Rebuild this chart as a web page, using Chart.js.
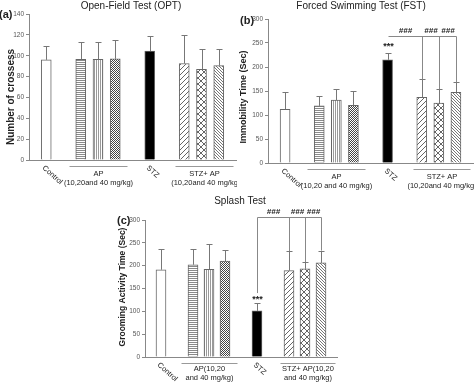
<!DOCTYPE html>
<html>
<head>
<meta charset="utf-8">
<script src="https://cdn.jsdelivr.net/npm/chart.js@4"></script>
<style>
  body { margin: 0; background: #fff; width: 474px; height: 383px; position: relative; overflow: hidden; }
  canvas { position: absolute; }
</style>
</head>
<body>
<canvas id="oftChart" width="237" height="190" style="left:0;top:0"></canvas>
<canvas id="fstChart" width="237" height="190" style="left:237px;top:0"></canvas>
<canvas id="splashChart" width="274" height="193" style="left:100px;top:190px"></canvas>
<script>
// ---------- data ----------
const categories = ['Control', 'AP 10', 'AP 20', 'AP 40', 'STZ', 'STZ+AP 10', 'STZ+AP 20', 'STZ+AP 40'];
const groupSizes = [1, 3, 1, 3];

const oftMean = [96, 96.5, 96.5, 97, 104.5, 92.5, 87, 90.5];
const oftSem  = [13, 16.5, 16.5, 18, 14.5, 27.5, 19, 16];

const fstMean = [112, 119, 131, 120, 215, 137, 125, 147];
const fstSem  = [36, 20, 24, 29, 14, 37, 29, 21];

const splashMean = [191, 202, 192, 210, 101, 189, 193, 206];
const splashSem  = [45, 34, 55, 25, 17, 43, 15, 27];

const oftTicks = [0, 20, 40, 60, 80, 100, 120, 140];
const timeTicks = [0, 50, 100, 150, 200, 250, 300];

const FONT = '"Liberation Sans", Arial, sans-serif';

// slots: empty category before, between groups and after
const slotIdx = [];
const slotLabels = [''];
let k0 = 0;
groupSizes.forEach((n, g) => {
  if (g) slotLabels.push('');
  for (let j = 0; j < n; j++) {
    slotIdx.push(slotLabels.length);
    slotLabels.push(categories[k0++]);
  }
});
slotLabels.push('');

function toSlots(arr) {
  const out = slotLabels.map(() => null);
  arr.forEach((v, i) => { out[slotIdx[i]] = v; });
  return out;
}

// ---------- fill patterns ----------
function tile(n, draw) {
  const c = document.createElement('canvas');
  c.width = c.height = n;
  const g = c.getContext('2d');
  g.fillStyle = '#fff';
  g.fillRect(0, 0, n, n);
  draw(g, n);
  return g.createPattern(c, 'repeat');
}
function diag(n, color, back) {
  return tile(n, (g) => {
    g.strokeStyle = color;
    g.lineWidth = 1;
    g.beginPath();
    if (back) {
      g.moveTo(0, 0); g.lineTo(n, n);
      g.moveTo(-1, n - 1); g.lineTo(1, n + 1);
      g.moveTo(n - 1, -1); g.lineTo(n + 1, 1);
    } else {
      g.moveTo(0, n); g.lineTo(n, 0);
      g.moveTo(-1, 1); g.lineTo(1, -1);
      g.moveTo(n - 1, n + 1); g.lineTo(n + 1, n - 1);
    }
    g.stroke();
  });
}
const fills = [
  '#ffffff',
  tile(2, (g) => { g.fillStyle = '#8a8a8a'; g.fillRect(0, 0, 2, 1); }),
  tile(2, (g) => { g.fillStyle = '#9a9a9a'; g.fillRect(0, 0, 1, 2); }),
  tile(2, (g) => { g.fillStyle = '#444'; g.fillRect(0, 0, 1, 1); g.fillRect(1, 1, 1, 1); }),
  '#000000',
  diag(5, '#666', false),
  tile(6, (g) => {
    g.strokeStyle = '#666';
    g.beginPath();
    g.moveTo(0, 6); g.lineTo(6, 0); g.moveTo(-1, 1); g.lineTo(1, -1); g.moveTo(5, 7); g.lineTo(7, 5);
    g.moveTo(0, 0); g.lineTo(6, 6); g.moveTo(-1, 5); g.lineTo(1, 7); g.moveTo(5, -1); g.lineTo(7, 1);
    g.stroke();
  }),
  diag(3, '#777', true)
];

// ---------- drawing helpers ----------
function txt(ctx, s, x, y, font, align, base) {
  ctx.font = font;
  ctx.textAlign = align || 'center';
  ctx.textBaseline = base || 'middle';
  ctx.fillText(s, x, y);
}

function makeDeco(o, means, sems) {
  return {
    id: 'deco',
    afterDatasetsDraw(chart) {
      const ctx = chart.ctx, ys = chart.scales.y;
      const bars = chart.getDatasetMeta(0).data;
      ctx.save();
      ctx.strokeStyle = '#777';
      ctx.lineWidth = 1;
      means.forEach((m, i) => {
        const x = Math.round(bars[slotIdx[i]].x) + 0.5;
        const top = Math.round(ys.getPixelForValue(m + sems[i])) + 0.5;
        ctx.beginPath();
        ctx.moveTo(x, ys.getPixelForValue(m));
        ctx.lineTo(x, top);
        ctx.moveTo(x - 3, top);
        ctx.lineTo(x + 3, top);
        ctx.stroke();
      });
      ctx.restore();
    },
    afterDraw(chart) {
      const ctx = chart.ctx, ys = chart.scales.y;
      const bars = chart.getDatasetMeta(0).data;
      const px = (i) => Math.round(bars[slotIdx[i]].x) + 0.5;
      const b = chart.chartArea.bottom;
      ctx.save();
      ctx.fillStyle = '#222';
      txt(ctx, o.title, o.titleX, o.titleY, '10px ' + FONT);
      txt(ctx, o.letter, o.letterX, o.letterY, 'bold 11px ' + FONT, 'left');

      ctx.save();
      ctx.translate(o.yTitleX, o.yTitleY);
      ctx.rotate(-Math.PI / 2);
      txt(ctx, o.yTitle, 0, 0, 'bold ' + o.yTitleSize + 'px ' + FONT);
      ctx.restore();

      // x labels and group lines
      ctx.strokeStyle = '#999';
      ctx.lineWidth = 1;
      let k = 0;
      groupSizes.forEach((n, g) => {
        const first = px(k), last = px(k + n - 1);
        if (n === 1) {
          ctx.save();
          ctx.translate(first - 3, b + o.rotY);
          ctx.rotate(42 * Math.PI / 180);
          txt(ctx, categories[k], 0, 0, '7.5px ' + FONT, 'left');
          ctx.restore();
        } else {
          const ext = g === 1 ? [12, 12] : [9, 14];
          const x0 = first - ext[0], x1 = last + ext[1];
          const ly = Math.round(b + o.lineY) + 0.5;
          ctx.beginPath();
          ctx.moveTo(x0, ly);
          ctx.lineTo(x1, ly);
          ctx.stroke();
          const lines = o.groups[g];
          txt(ctx, lines[0], (x0 + x1) / 2, b + o.l1, '7.5px ' + FONT);
          txt(ctx, lines[1], (x0 + x1) / 2, b + o.l2, '7.5px ' + FONT);
        }
        k += n;
      });

      // significance marks
      if (o.bracket) {
        const stz = 4;
        const capStz = ys.getPixelForValue(means[stz] + sems[stz]);
        txt(ctx, '***', px(stz), capStz - o.starGap, 'bold 9px ' + FONT, 'center', 'alphabetic');
        const ly = Math.round(ys.getPixelForValue(o.bracket)) + 0.5;
        ctx.strokeStyle = '#888';
        ctx.beginPath();
        ctx.moveTo(px(stz), ly);
        ctx.lineTo(px(7), ly);
        if (o.stzDrop) {
          ctx.moveTo(px(stz), ly);
          ctx.lineTo(px(stz), ys.getPixelForValue(o.stzDrop));
        }
        for (let i = 5; i <= 7; i++) {
          ctx.moveTo(px(i), ly);
          ctx.lineTo(px(i), ys.getPixelForValue(means[i] + sems[i]));
        }
        ctx.stroke();
        for (let i = 5; i <= 7; i++) {
          txt(ctx, '###', (px(i - 1) + px(i)) / 2, ly - 2, 'bold italic 8px ' + FONT, 'center', 'bottom');
        }
      }
      ctx.restore();
    }
  };
}

function makePanel(id, means, sems, ticks, o) {
  return new Chart(document.getElementById(id), {
    type: 'bar',
    data: {
      labels: slotLabels,
      datasets: [{
        data: toSlots(means),
        backgroundColor: toSlots(fills),
        borderColor: '#666',
        borderWidth: 1,
        barThickness: 10
      }]
    },
    options: {
      responsive: false,
      animation: false,
      events: [],
      layout: { padding: o.pad },
      plugins: { legend: { display: false }, tooltip: { enabled: false } },
      scales: {
        x: {
          offset: false,
          grid: { display: false },
          ticks: { display: false },
          border: { color: '#888' },
          afterFit: (s) => { s.height = o.xh; }
        },
        y: {
          min: ticks[0],
          max: ticks[ticks.length - 1],
          ticks: { stepSize: ticks[1] - ticks[0], color: '#555', padding: 2, font: { size: 6.5, family: FONT } },
          grid: { drawOnChartArea: false, tickLength: 3, color: '#888' },
          border: { color: '#888' },
          afterFit: (s) => { s.width = o.yw; }
        }
      }
    },
    plugins: [makeDeco(o, means, sems)]
  });
}

makePanel('oftChart', oftMean, oftSem, oftTicks, {
  pad: { top: 14, right: 1, left: 0, bottom: 0 }, yw: 29, xh: 30,
  title: 'Open-Field Test (OPT)', titleX: 131, titleY: 6,
  letter: '(a)', letterX: -1, letterY: 15,
  yTitle: 'Number of crossess', yTitleX: 11, yTitleY: 97, yTitleSize: 10,
  rotY: 7, lineY: 6, l1: 14, l2: 23,
  groups: [null, ['AP', '(10,20and 40 mg/kg)'], null, ['STZ+ AP', '(10,20and 40 mg/kg']]
});

makePanel('fstChart', fstMean, fstSem, timeTicks, {
  pad: { top: 19, right: 1, left: 0, bottom: 0 }, yw: 31, xh: 27,
  title: 'Forced Swimming Test (FST)', titleX: 124, titleY: 6,
  letter: '(b)', letterX: 3, letterY: 21,
  yTitle: 'Immobility Time (Sec)', yTitleX: 7, yTitleY: 97, yTitleSize: 9,
  rotY: 7, lineY: 6, l1: 14, l2: 23,
  groups: [null, ['AP', '(10,20 and 40 mg/kg)'], null, ['STZ+ AP', '(10,20and 40 mg/kg)']],
  bracket: 265, starGap: 4
});

makePanel('splashChart', splashMean, splashSem, timeTicks, {
  pad: { top: 30, right: 37, left: 0, bottom: 0 }, yw: 45, xh: 26,
  title: 'Splash Test', titleX: 140, titleY: 11,
  letter: '(c)', letterX: 17, letterY: 31,
  yTitle: 'Grooming Activity Time (Sec)', yTitleX: 23, yTitleY: 97, yTitleSize: 8.5,
  rotY: 7, lineY: 6, l1: 12, l2: 21,
  groups: [null, ['AP(10,20', 'and 40 mg/kg)'], null, ['STZ+ AP(10,20', 'and 40 mg/kg)']],
  bracket: 306, stzDrop: 140, starGap: 1
});
</script>
</body>
</html>
